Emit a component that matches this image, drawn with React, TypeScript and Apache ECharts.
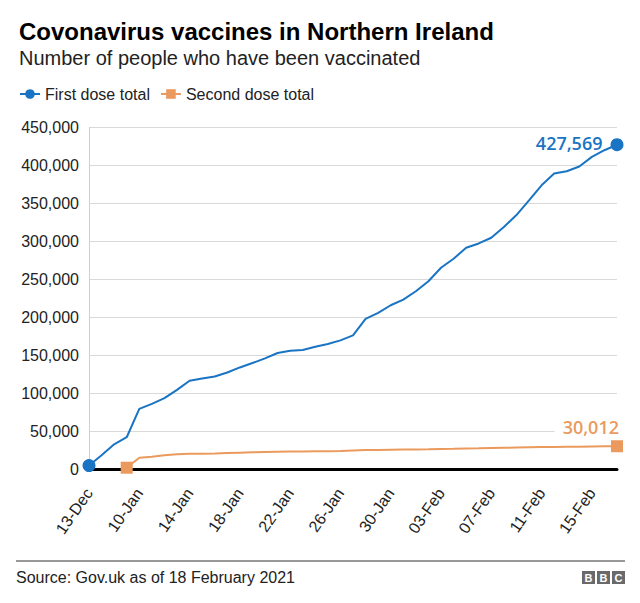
import React, { useEffect, useRef } from "react";
import * as echarts from "echarts";

const categories = [
  "13-Dec", "20-Dec", "27-Dec", "03-Jan",
  "10-Jan", "11-Jan", "12-Jan", "13-Jan", "14-Jan", "15-Jan", "16-Jan", "17-Jan",
  "18-Jan", "19-Jan", "20-Jan", "21-Jan", "22-Jan", "23-Jan", "24-Jan", "25-Jan",
  "26-Jan", "27-Jan", "28-Jan", "29-Jan", "30-Jan", "31-Jan",
  "01-Feb", "02-Feb", "03-Feb", "04-Feb", "05-Feb", "06-Feb", "07-Feb", "08-Feb",
  "09-Feb", "10-Feb", "11-Feb", "12-Feb", "13-Feb", "14-Feb", "15-Feb", "16-Feb", "17-Feb",
];

const firstDose = [
  4500, 18000, 32600, 41900,
  79300, 85900, 93400, 104400, 116300, 119400, 122000, 127300,
  133900, 139700, 145800, 152900, 156000, 156900, 161300, 164800,
  169600, 176200, 197900, 205800, 215900, 223400,
  234400, 247600, 265300, 277200, 291700, 297400, 304900, 319000,
  334800, 354200, 374100, 389500, 392600, 398800, 411500, 420300, 427569,
];

const secondDose: (number | null)[] = [
  null, null, null, 1700,
  14900, 16000, 18000, 19500, 20000, 20200, 20500, 21000,
  21500, 22000, 22400, 22700, 23000, 23200, 23400, 23500,
  23700, 24500, 25000, 25200, 25400, 25600,
  25800, 26000, 26300, 26600, 27000, 27300, 27700, 28000,
  28300, 28600, 28900, 29100, 29300, 29500, 29700, 29900, 30012,
];

const yTicks = { min: 0, max: 450000, interval: 50000 };

const BLUE = "#1a74c4";
const ORANGE = "#eb9a5e";
const FONT = "'Liberation Sans', Arial, Helvetica, sans-serif";

const fmt = (v: number) => v.toLocaleString("en-US");

function buildData(values: (number | null)[], labelCfg: any) {
  const valid = values.map((v, i) => (v == null ? -1 : i)).filter((i) => i >= 0);
  const firstIdx = valid[0];
  const lastIdx = valid[valid.length - 1];
  return values.map((v, i) => {
    if (v == null) return "-";
    if (i === firstIdx) return { value: v };
    if (i === lastIdx) return { value: v, label: labelCfg(v) };
    return { value: v, symbol: "none" };
  });
}

export default function App() {
  const ref = useRef<HTMLDivElement>(null);
  useEffect(() => {
    if (!ref.current) return;
    const chart = echarts.init(ref.current, undefined, { renderer: "svg" });
    const option: any = {
      animation: false,
      backgroundColor: "#fff",
      title: [
        {
          text: "Covonavirus vaccines in Northern Ireland",
          left: 14,
          top: 14,
          textStyle: { fontFamily: FONT, fontSize: 24, fontWeight: "bold", color: "#000" },
        },
        {
          text: "Number of people who have been vaccinated",
          left: 14,
          top: 43,
          textStyle: { fontFamily: FONT, fontSize: 20, fontWeight: "normal", color: "#222" },
        },
      ],
      legend: {
        left: 14,
        top: 81,
        itemWidth: 20,
        itemHeight: 12,
        itemGap: 10,
        textStyle: { fontFamily: FONT, fontSize: 16, color: "#222" },
        data: ["First dose total", "Second dose total"],
      },
      grid: { left: 89, right: 23, top: 127.7, bottom: 134, containLabel: false },
      xAxis: {
        type: "category",
        data: categories,
        boundaryGap: false,
        axisLine: { show: true, lineStyle: { color: "#000", width: 3 } },
        axisTick: { show: false },
        axisLabel: {
          interval: 3,
          rotate: 55,
          margin: 21,
          fontFamily: FONT,
          fontSize: 16,
          color: "#222",
        },
        splitLine: { show: false },
      },
      yAxis: {
        type: "value",
        min: yTicks.min,
        max: yTicks.max,
        interval: yTicks.interval,
        axisLine: { show: true, lineStyle: { color: "#d0d0d0", width: 1 } },
        axisTick: { show: false },
        axisLabel: {
          margin: 10,
          fontFamily: FONT,
          fontSize: 16,
          color: "#222",
          formatter: (v: number) => fmt(v),
        },
        splitLine: { show: true, lineStyle: { color: "#d9d9d9", width: 1 } },
      },
      series: [
        {
          name: "First dose total",
          type: "line",
          symbol: "circle",
          symbolSize: 13,
          showAllSymbol: true,
          itemStyle: { color: BLUE },
          lineStyle: { color: BLUE, width: 2 },
          data: buildData(firstDose, (v: number) => ({
            show: true,
            position: "left",
            distance: 8,
            offset: [0, -2],
            formatter: fmt(v),
            fontFamily: "'Open Sans', sans-serif",
            fontSize: 18,
            fontWeight: 600,
            color: BLUE,
          })),
          z: 3,
        },
        {
          name: "Second dose total",
          type: "line",
          symbol: "rect",
          symbolSize: 12,
          showAllSymbol: true,
          itemStyle: { color: ORANGE },
          lineStyle: { color: ORANGE, width: 2 },
          data: buildData(secondDose, (v: number) => ({
            show: true,
            position: "top",
            distance: 4,
            align: "right",
            offset: [4, 0],
            formatter: fmt(v),
            fontFamily: "'Open Sans', sans-serif",
            fontSize: 18,
            fontWeight: 600,
            color: ORANGE,
            backgroundColor: "#fff",
            padding: [0, 2, 0, 8],
          })),
          z: 3,
        },
      ],
      graphic: [
        {
          type: "line",
          shape: { x1: 16, y1: 561, x2: 625, y2: 561 },
          style: { stroke: "#333", lineWidth: 1 },
        },
        {
          type: "text",
          x: 16,
          y: 577,
          style: {
            text: "Source: Gov.uk as of 18 February 2021",
            fontFamily: FONT,
            fontSize: 16,
            fill: "#222",
            verticalAlign: "middle",
          },
        },
        ...["B", "B", "C"].flatMap((ch, i) => [
          {
            type: "rect",
            shape: { x: 582 + i * 15, y: 571, width: 13, height: 13 },
            style: { fill: "#6a6a6a" },
          },
          {
            type: "text",
            x: 582 + i * 15 + 6.5,
            y: 577.5,
            style: {
              text: ch,
              fontFamily: FONT,
              fontSize: 11,
              fontWeight: "bold",
              fill: "#fff",
              align: "center",
              verticalAlign: "middle",
            },
          },
        ]),
      ],
    };
    chart.setOption(option);
    return () => chart.dispose();
  }, []);
  return (
    <div
      ref={ref}
      style={{ position: "fixed", left: 0, top: 0, width: 640, height: 603 }}
    />
  );
}
